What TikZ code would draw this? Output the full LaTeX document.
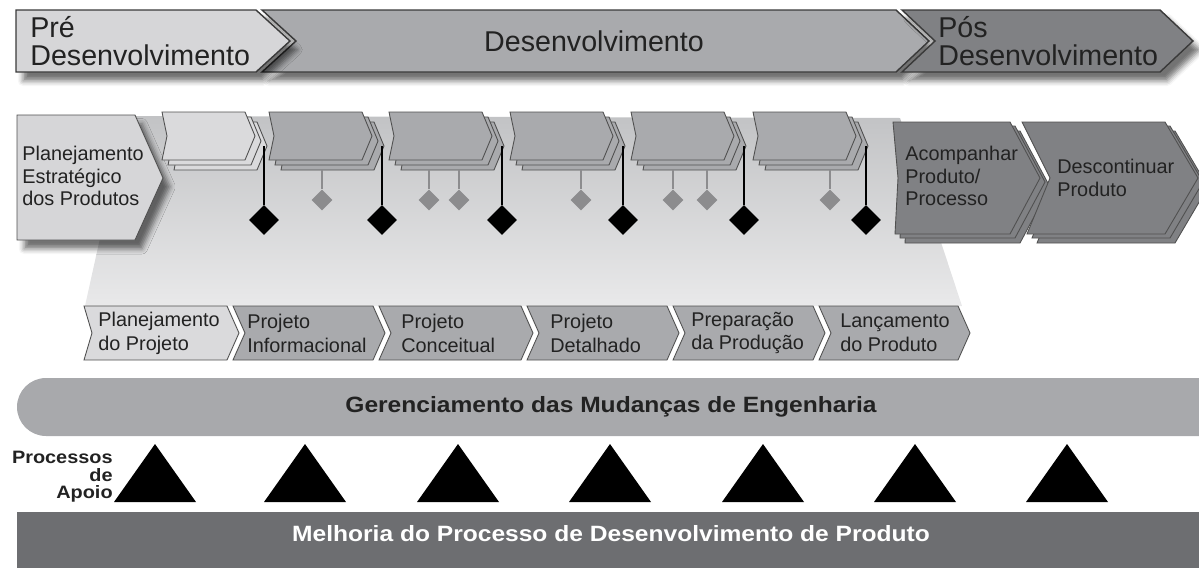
\documentclass[tikz,border=0pt]{standalone}
\usepackage{fontspec}
\setmainfont{Liberation Sans}
\newfontfamily\wfam[FakeStretch=1.11]{Liberation Sans}
\usetikzlibrary{shapes.geometric,shadows.blur}
\definecolor{prefill}{HTML}{D6D6D8}
\definecolor{midfill}{HTML}{A9AAAD}
\definecolor{darkfill}{HTML}{808184}
\definecolor{edgecol}{HTML}{3A3A3A}
\definecolor{thinedge}{HTML}{505050}
\definecolor{txtcol}{HTML}{222222}
\definecolor{gerfill}{HTML}{A8A9AC}
\definecolor{melfill}{HTML}{6D6E71}
\definecolor{gdia}{HTML}{8C8C8E}
\definecolor{bandtop}{HTML}{C2C3C5}
\definecolor{bandbot}{HTML}{E9E9EA}
\definecolor{lightfill}{HTML}{DADADC}
\tikzset{
  toparrow/.style={draw=edgecol,line width=0.8pt,line join=miter},
  shad/.style={blur shadow={shadow xshift=4pt,shadow yshift=-5pt,shadow blur radius=3pt,shadow opacity=55}},
  stackl/.style={draw=thinedge,line width=0.5pt},
  lowchev/.style={draw=thinedge,line width=0.5pt},
  toptext/.style={inner sep=0pt,text=txtcol,align=left,font=\fontsize{16.3}{15.6}\selectfont},
  midtext/.style={inner sep=0pt,text=txtcol,align=left,font=\fontsize{11.3}{13}\selectfont},
  lowtext/.style={inner sep=0pt,text=txtcol,align=left,font=\fontsize{11.3}{13.6}\selectfont},
  bdia/.style={diamond,fill=black,inner sep=0pt,minimum width=0.6cm,minimum height=0.6cm},
  gdiam/.style={diamond,fill=gdia,inner sep=0pt,minimum width=0.42cm,minimum height=0.42cm},
  gateline/.style={draw=black,line width=0.8pt},
  grayline/.style={draw=gdia,line width=0.6pt},
  boldtext/.style={inner sep=0pt,font=\wfam\bfseries\fontsize{12.6}{14}\selectfont},
}
\newcommand\mystack[3]{%
  \foreach \dx/\dy in {12/10,6/5,0/0}{%
    \path[stackl,fill=#3] ({#1+\dx},{112+\dy}) -- ++(#2,0) -- ++(10,24) -- ++(-10,24) -- ++(-#2,0) -- ++(5,-24) -- cycle;
  }}
\newcommand\mylow[4]{%
  \path[lowchev,fill=#4] (#1,306) -- (#2,306) -- ({#2+12},333) -- (#2,360) -- (#1,360) -- ({#1+#3},333) -- cycle;}
\begin{document}
\begin{tikzpicture}[x=0.02cm,y=-0.02cm]
\useasboundingbox (0,0) rectangle (1199,568);
\clip (0,0) rectangle (1199,568);

% background band
\shade[top color=bandtop,bottom color=bandbot] (127,116) -- (900,118) -- (962,306) -- (85,306) -- cycle;

% top phase arrows
\path[toparrow,fill=midfill,shad] (262,10) -- (896,10) -- (929,41) -- (896,72) -- (262,72) -- (296,41) -- cycle;
\path[toparrow,fill=prefill,shad] (16,10) -- (256,10) -- (290,41) -- (256,72) -- (16,72) -- cycle;
\path[toparrow,fill=darkfill,shad] (902,10) -- (1160,10) -- (1193,41) -- (1160,72) -- (902,72) -- (935,41) -- cycle;
\node[toptext,anchor=west] (pre) at (30,41) {Pré\\Desenvolvimento};
\node[toptext,anchor=center] (dev) at (594,41) {Desenvolvimento};
\node[toptext,anchor=west] (pos) at (938,41) {Pós\\Desenvolvimento};

% strategic planning
\path[stackl,fill=prefill,shad] (17,115) -- (135,115) -- (163,178) -- (135,240) -- (17,240) -- cycle;
\node[midtext,anchor=west] (pep) at (22,176) {Planejamento\\Estratégico\\dos Produtos};

% stacks
\mystack{162}{83}{lightfill}
\mystack{269}{93}{midfill}
\mystack{389}{93}{midfill}
\mystack{510}{93}{midfill}
\mystack{631}{93}{midfill}
\mystack{753}{93}{midfill}

% gates (black diamonds)
\foreach \i/\x in {1/264,2/382,3/502,4/623,5/744,6/866}{
  \coordinate (gs\i) at (\x,146);
  \node[bdia] (gd\i) at (\x,220) {};
  \draw[gateline] (gs\i) -- (gd\i.north);
}
% small gray diamonds
\foreach \i/\x in {1/322,2/429,3/459,4/581,5/673,6/707,7/830}{
  \coordinate (ms\i) at (\x,170);
  \node[gdiam] (md\i) at (\x,200) {};
  \draw[grayline] (ms\i) -- (md\i.north);
}

% post-development chevrons
\foreach \dx/\dy in {10/9,5/4,0/0}{
  \path[stackl,fill=darkfill] ({893+\dx},{122+\dy}) -- ({1010+\dx},{122+\dy}) -- ({1040+\dx},{178+\dy}) -- ({1010+\dx},{234+\dy}) -- ({895+\dx},{234+\dy}) -- ({898+\dx},{178+\dy}) -- cycle;
}
\foreach \dx/\dy in {10/9,5/4,0/0}{
  \path[stackl,fill=darkfill] ({1022+\dx},{122+\dy}) -- ({1165+\dx},{122+\dy}) -- ({1198+\dx},{178+\dy}) -- ({1165+\dx},{234+\dy}) -- ({1027+\dx},{234+\dy}) -- ({1050+\dx},{178+\dy}) -- cycle;
}
\node[midtext,anchor=west] (acp) at (905,176) {Acompanhar\\Produto/\\Processo};
\node[midtext,anchor=west] (dsc) at (1057,178) {Descontinuar\\Produto};

% lower phase chevrons
\mylow{84}{227}{8}{lightfill}
\mylow{233}{373}{12}{midfill}
\mylow{379}{521}{12}{midfill}
\mylow{527}{667}{12}{midfill}
\mylow{673}{813}{12}{midfill}
\mylow{819}{958}{12}{midfill}
\node[lowtext,anchor=west] (p1) at (98,333) {Planejamento\\do Projeto};
\node[lowtext,anchor=west] (p2) at (247,333) {Projeto\\Informacional};
\node[lowtext,anchor=west] (p3) at (401,333) {Projeto\\Conceitual};
\node[lowtext,anchor=west] (p4) at (550,333) {Projeto\\Detalhado};
\node[lowtext,anchor=west] (p5) at (691,333) {Preparação\\da Produção};
\node[lowtext,anchor=west] (p6) at (840,333) {Lançamento\\do Produto};

% engineering change management band
\fill[gerfill,rounded corners=0.58cm] (17,378) rectangle (1260,436);
\node[boldtext,text=txtcol,anchor=base] (ger) at (611,412) {Gerenciamento das Mudanças de Engenharia};

% support processes
\node[boldtext,text=txtcol,align=right,anchor=east,font=\wfam\bfseries\fontsize{10.2}{10}\selectfont] (apoio) at (113,477) {Processos\\de\\Apoio};
\foreach \x in {155,305,458,610,763,915,1067}{
  \fill[black] (\x,444) -- ({\x+41},502) -- ({\x-41},502) -- cycle;
}

% improvement band
\fill[melfill] (17,512) rectangle (1199,568);
\node[boldtext,text=white,anchor=base] (mel) at (611,541) {Melhoria do Processo de Desenvolvimento de Produto};
\end{tikzpicture}
\end{document}
